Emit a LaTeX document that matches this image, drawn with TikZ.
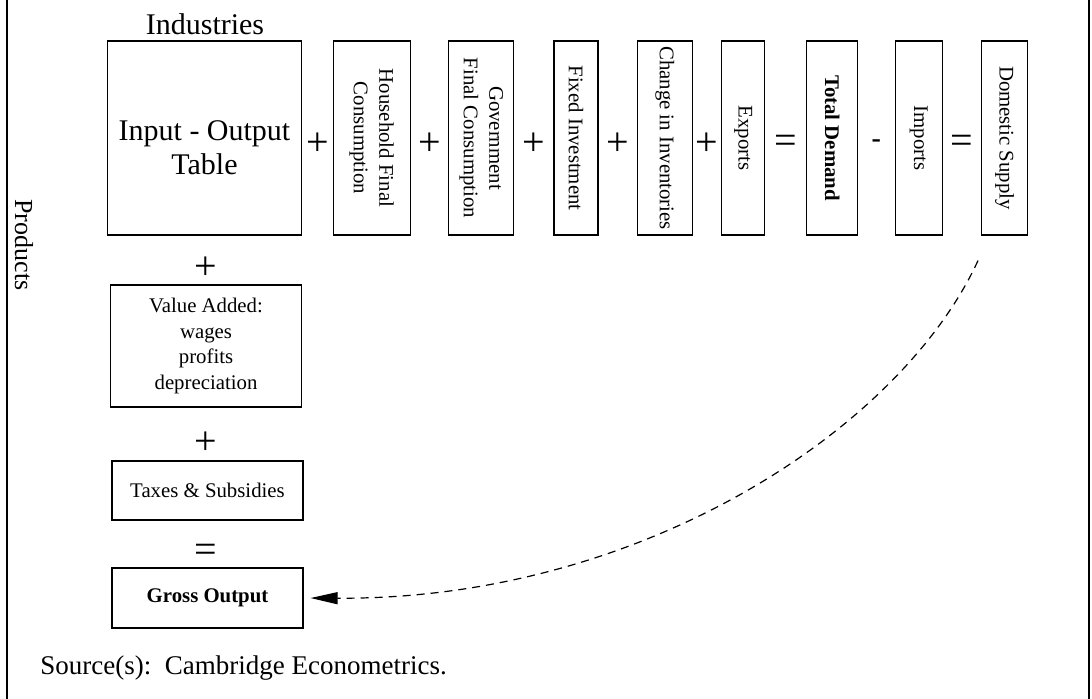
\documentclass[tikz,border=0pt]{standalone}
\usepackage{fontspec}
\setmainfont{Liberation Serif}
\usetikzlibrary{arrows.meta}

\begin{document}
\begin{tikzpicture}[
  x=0.5pt, y=-0.5pt,
  every node/.style={inner sep=0pt},
  block/.style={draw, line width=0.6pt, align=center, font=\fontsize{10.4}{12.8}\selectfont},
  colblock/.style={block, rotate=-90, minimum width=97pt},
  op/.style={font=\fontsize{20}{20}\selectfont},
  frame/.style={line width=1pt},
  feedback/.style={line width=0.6pt, dash pattern=on 4pt off 3pt, shorten >=3.5pt,
    -{Triangle[length=13.5pt,width=6pt]}},
]
\useasboundingbox (0,0) rectangle (1092,699);
\draw[frame] (6.5,0) -- (6.5,699);
\draw[frame] (1089,0) -- (1089,699);

\node[font=\fontsize{15}{18}\selectfont] (industries) at (205,24) {Industries};
\node[font=\fontsize{13}{16}\selectfont, rotate=-90] (products) at (24,245) {Products};
\node[block, minimum width=97pt, minimum height=97pt] (io) at (204.5,138) {};
\node[align=center, font=\fontsize{15}{17}\selectfont] (iotext) at ([yshift=-5pt]io.center)
  {Input - Output\\Table};

\foreach \nm/\cx/\bw/\txt in {
  household/371.65/38.5/{Household Final\\Consumption},
  government/481.3/32.5/{Government\\Final Consumption},
  investment/575.95/22/{Fixed Investment},
  inventories/664.75/27.5/{Change in Inventories},
  exports/743.1/21.5/{Exports},
  demand/832.15/25.5/{\textbf{Total Demand}},
  imports/918.6/23.5/{Imports},
  supply/1004.6/23/{Domestic Supply}}
  \node[colblock, minimum height=\bw pt] (\nm) at (\cx,138) {\txt};

\foreach \a/\b/\s in {
  io.east/household.south/+,
  household.north/government.south/+,
  government.north/investment.south/+,
  investment.north/inventories.south/+,
  inventories.north/exports.south/+,
  exports.north/demand.south/=,
  demand.north/imports.south/{\fontsize{14}{14}\selectfont\textbf{-}},
  imports.north/supply.south/=}
  \path (\a) -- (\b) node[midway, op, yshift=-3pt] {\s};

\node[op] (plusva) at (206,268) {+};
\node[block, minimum width=95.5pt, minimum height=61pt] (value) at (206,346)
  {Value Added:\\wages\\profits\\depreciation};
\node[op] (plustax) at (206,443) {+};
\node[block, minimum width=95.5pt, minimum height=29.5pt] (taxes) at (207.5,490.5)
  {Taxes \& Subsidies};
\node[op] (equals) at (206,553) {=};
\node[block, minimum width=95.5pt, minimum height=30pt] (gross) at (207.5,598)
  {\textbf{Gross Output}};

\coordinate (supplyfoot) at ([xshift=-13.3pt,yshift=-12.5pt]supply.east);
\draw[feedback] (supplyfoot) .. controls (900,430) and (640,600) .. (gross.east);

\node[anchor=west, font=\fontsize{13.5}{16}\selectfont] (source) at (40,668)
  {Source(s):\ \ Cambridge Econometrics.};
\end{tikzpicture}
\end{document}
